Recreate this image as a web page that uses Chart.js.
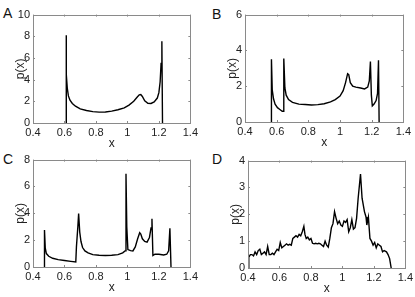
<!DOCTYPE html>
<html>
<head>
<meta charset="utf-8">
<script src="https://cdn.jsdelivr.net/npm/chart.js@4/dist/chart.umd.min.js"></script>
<style>
  html, body { margin: 0; padding: 0; background: #fff; overflow: hidden; }
  body { width: 415px; height: 297px; position: relative; font-family: "Liberation Sans", Arial, sans-serif; }
  canvas { position: absolute; }
  .tag { position: absolute; font-size: 14px; line-height: 14px; color: #111; }
</style>
</head>
<body>
<div class="tag" style="left:3px;top:6px">A</div>
<div class="tag" style="left:212px;top:7px">B</div>
<div class="tag" style="left:3px;top:152px">C</div>
<div class="tag" style="left:212px;top:152px">D</div>
<canvas id="chartA" width="198" height="148" style="left:3px;top:5px"></canvas>
<canvas id="chartB" width="199" height="147" style="left:215px;top:5px"></canvas>
<canvas id="chartC" width="198" height="147" style="left:3px;top:150px"></canvas>
<canvas id="chartD" width="198" height="147" style="left:218px;top:151px"></canvas>
<script>
// tick values shared by all panels
const xTicks = [0.4, 0.6, 0.8, 1, 1.2, 1.4];
const aYTicks = [0, 2, 4, 6, 8, 10];
const bYTicks = [0, 2, 4, 6];
const cYTicks = [0, 2, 4, 6, 8];
const dYTicks = [0, 1, 2, 3, 4];

// panel A
const aX = [0.61, 0.61, 0.613, 0.618, 0.625, 0.635, 0.65, 0.67, 0.7, 0.74, 0.78, 0.82, 0.86, 0.9, 0.94, 0.98, 1.01, 1.04, 1.06, 1.075, 1.085, 1.095, 1.11, 1.13, 1.15, 1.17, 1.19, 1.2, 1.208, 1.214, 1.219, 1.223];
const aY = [0, 8.1, 4.5, 3.2, 2.5, 2.1, 1.8, 1.55, 1.3, 1.15, 1.05, 1.0, 1.02, 1.1, 1.22, 1.4, 1.65, 2.0, 2.35, 2.6, 2.62, 2.45, 2.05, 1.82, 1.8, 1.95, 2.3, 2.8, 3.8, 5.5, 7.55, 0];

// panel B
const bX = [0.567, 0.567, 0.572, 0.58, 0.59, 0.605, 0.62, 0.635, 0.641, 0.645, 0.652, 0.66, 0.675, 0.7, 0.74, 0.78, 0.82, 0.86, 0.9, 0.94, 0.97, 1.0, 1.02, 1.035, 1.048, 1.055, 1.065, 1.08, 1.1, 1.13, 1.155, 1.175, 1.185, 1.192, 1.198, 1.204, 1.215, 1.228, 1.237, 1.243, 1.247];
const bY = [0, 3.5, 1.8, 1.3, 1.0, 0.8, 0.7, 0.6, 0.6, 3.55, 1.9, 1.5, 1.25, 1.1, 1.0, 0.98, 0.95, 0.97, 1.02, 1.12, 1.25, 1.45, 1.75, 2.2, 2.7, 2.65, 2.2, 2.0, 1.95, 1.9, 1.85, 1.95, 2.3, 3.38, 1.5, 0.9, 1.0, 1.2, 1.6, 3.45, 0];

// panel C
const cX = [0.473, 0.473, 0.478, 0.485, 0.5, 0.525, 0.56, 0.6, 0.64, 0.672, 0.676, 0.685, 0.69, 0.697, 0.705, 0.715, 0.73, 0.75, 0.78, 0.82, 0.86, 0.9, 0.94, 0.97, 0.985, 0.991, 0.996, 1.003, 1.02, 1.035, 1.05, 1.065, 1.078, 1.085, 1.095, 1.11, 1.125, 1.14, 1.15, 1.156, 1.162, 1.175, 1.2, 1.23, 1.25, 1.262, 1.27, 1.277];
const cY = [0, 2.76, 1.4, 1.0, 0.8, 0.65, 0.55, 0.48, 0.42, 0.38, 1.5, 3.0, 3.98, 2.6, 1.9, 1.45, 1.2, 1.05, 0.92, 0.87, 0.86, 0.87, 0.92, 1.05, 1.2, 6.95, 3.0, 1.3, 1.22, 1.2, 1.5, 2.1, 2.55, 2.45, 2.1, 1.9, 1.85, 2.2, 2.9, 3.6, 0.85, 0.95, 0.95, 0.9, 0.95, 1.2, 2.88, 0];

// panel D (ten per row, rows line up with each other)
const dX = [
  0.405, 0.405, 0.415, 0.425, 0.435, 0.445, 0.455, 0.465, 0.475, 0.485,
  0.495, 0.505, 0.515, 0.525, 0.535, 0.545, 0.555, 0.565, 0.575, 0.585,
  0.595, 0.605, 0.615, 0.625, 0.635, 0.645, 0.655, 0.665, 0.675, 0.685,
  0.695, 0.705, 0.715, 0.725, 0.735, 0.745, 0.755, 0.762, 0.77, 0.78,
  0.79, 0.8, 0.81, 0.82, 0.83, 0.84, 0.85, 0.86, 0.87, 0.88,
  0.89, 0.9, 0.91, 0.92, 0.93, 0.94, 0.95, 0.96, 0.97, 0.98,
  0.99, 1.0, 1.01, 1.02, 1.03, 1.04, 1.05, 1.06, 1.07, 1.08,
  1.09, 1.1, 1.115, 1.125, 1.14, 1.15, 1.155, 1.165, 1.175, 1.185,
  1.195, 1.205, 1.215, 1.225, 1.235, 1.245, 1.255, 1.265, 1.28, 1.29,
  1.3, 1.31
];
const dY = [
  0, 0.4, 0.5, 0.5, 0.45, 0.6, 0.5, 0.65, 0.7, 0.5,
  0.55, 0.6, 0.5, 0.8, 0.5, 0.5, 0.55, 0.5, 0.6, 0.7,
  0.65, 0.95, 0.75, 0.8, 0.85, 0.9, 0.85, 0.88, 0.85, 1.1,
  1.15, 1.2, 1.15, 1.25, 1.2, 1.35, 1.55, 1.25, 1.1, 1.15,
  1.05, 1.1, 0.92, 0.9, 0.92, 0.9, 0.92, 0.9, 0.85, 0.8,
  1.0, 0.85, 0.78, 1.1, 1.5, 1.65, 2.1, 1.85, 1.65, 1.75,
  1.6, 1.55, 1.75, 1.7, 1.8, 1.35, 1.5, 1.8, 1.45, 1.5,
  1.85, 2.6, 3.5, 2.6, 2.1, 1.9, 1.6, 1.9, 1.1, 1.0,
  0.85, 0.95, 0.75, 0.9, 0.85, 0.8, 0.6, 0.65, 0.6, 0.5,
  0.35, 0
];

// box + inward ticks, matlab style
const framePlugin = {
  id: 'frame',
  afterDatasetsDraw(chart) {
    const { ctx, chartArea: a, scales } = chart;
    ctx.save();
    ctx.strokeStyle = '#8a8a8a';
    ctx.lineWidth = 1;
    ctx.strokeRect(Math.round(a.left) + 0.5, Math.round(a.top) + 0.5, Math.round(a.right - a.left), Math.round(a.bottom - a.top));
    ctx.beginPath();
    scales.x.ticks.forEach(t => {
      const px = Math.round(scales.x.getPixelForValue(t.value)) + 0.5;
      ctx.moveTo(px, a.bottom); ctx.lineTo(px, a.bottom - 2);
      ctx.moveTo(px, a.top); ctx.lineTo(px, a.top + 2);
    });
    scales.y.ticks.forEach(t => {
      const py = Math.round(scales.y.getPixelForValue(t.value)) + 0.5;
      ctx.moveTo(a.left, py); ctx.lineTo(a.left + 2, py);
      ctx.moveTo(a.right, py); ctx.lineTo(a.right - 2, py);
    });
    ctx.stroke();
    ctx.restore();
  }
};

function makePanel(id, xs, ys, yTicks) {
  const pts = xs.map((x, i) => ({ x: x, y: ys[i] }));
  const tickFont = { family: '"Liberation Sans", Arial, sans-serif', size: 11 };
  return new Chart(document.getElementById(id), {
    type: 'line',
    data: { datasets: [{ data: pts, borderColor: '#000', borderWidth: 1.4, pointRadius: 0, tension: 0, fill: false }] },
    options: {
      responsive: false,
      animation: false,
      devicePixelRatio: 1,
      layout: { padding: { top: 7, right: 8, left: 0, bottom: 0 } },
      plugins: { legend: { display: false }, tooltip: { enabled: false } },
      scales: {
        x: {
          type: 'linear', min: 0.4, max: 1.4,
          grid: { display: false, drawTicks: false },
          border: { display: false },
          afterBuildTicks: s => { s.ticks = xTicks.map(v => ({ value: v })); },
          afterFit: s => { s.height = 30; },
          ticks: { autoSkip: false, maxRotation: 0, padding: 3, color: '#222', font: tickFont, callback: v => String(v) },
          title: { display: true, text: 'x', color: '#222', font: { family: tickFont.family, size: 12 }, padding: { top: 0, bottom: 2 } }
        },
        y: {
          min: yTicks[0], max: yTicks[yTicks.length - 1],
          grid: { display: false, drawTicks: false },
          border: { display: false },
          afterBuildTicks: s => { s.ticks = yTicks.map(v => ({ value: v })); },
          afterFit: s => { s.width = 30; },
          ticks: { autoSkip: false, padding: 3, color: '#222', font: tickFont, callback: v => String(v) },
          title: { display: true, text: 'p(x)', color: '#222', font: { family: tickFont.family, size: 12 }, padding: { top: 10, bottom: 0 } }
        }
      }
    },
    plugins: [framePlugin]
  });
}

makePanel('chartA', aX, aY, aYTicks);
makePanel('chartB', bX, bY, bYTicks);
makePanel('chartC', cX, cY, cYTicks);
makePanel('chartD', dX, dY, dYTicks);
</script>
</body>
</html>
